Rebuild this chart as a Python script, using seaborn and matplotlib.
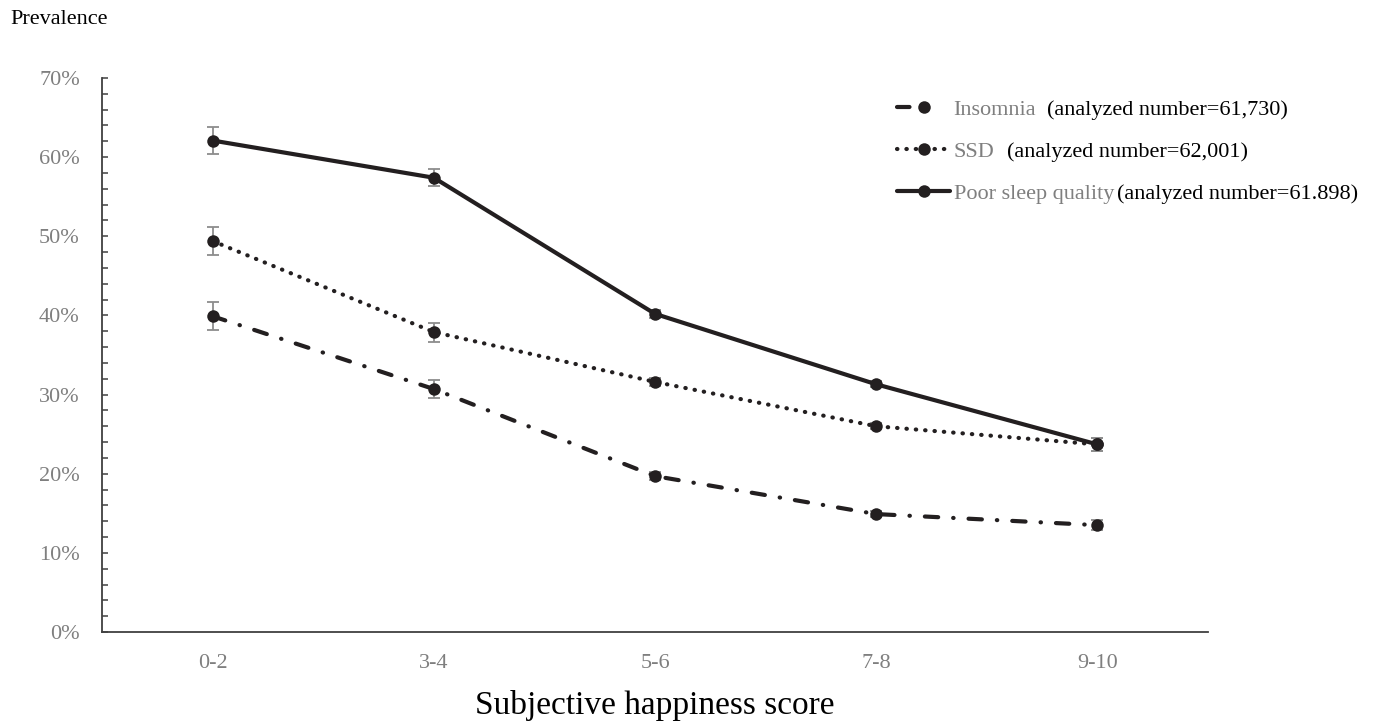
import matplotlib
matplotlib.use("Agg")
import matplotlib.pyplot as plt
import seaborn as sns
import numpy as np
import pandas as pd
from matplotlib.lines import Line2D
from matplotlib.ticker import MultipleLocator, PercentFormatter

# ---- data ----
categories = ["0-2", "3-4", "5-6", "7-8", "9-10"]
insomnia = [39.9, 30.7, 19.7, 14.9, 13.5]
insomnia_err = [1.8, 1.1, 0.5, 0.4, 0.6]
ssd = [49.4, 37.9, 31.6, 26.0, 23.7]
ssd_err = [1.8, 1.2, 0.5, 0.4, 0.8]
poor = [62.1, 57.4, 40.2, 31.3, 23.7]
poor_err = [1.7, 1.1, 0.5, 0.4, 0.8]
series_names = ["Insomnia", "SSD", "Poor sleep quality"]
series_counts = ["(analyzed number=61,730)", "(analyzed number=62,001)",
                 "(analyzed number=61.898)"]

sns.set_theme(style="white")
plt.rcParams["font.family"] = ["Liberation Serif", "DejaVu Serif"]

W, H, DPI = 1387, 722, 100
fig = plt.figure(figsize=(W / DPI, H / DPI), dpi=DPI)
ax = fig.add_axes([102 / W, 1 - 632 / H, (1208 - 102) / W, (632 - 78) / H])

line_color = "#231f20"
err_color = "#8c8c8c"
x = np.arange(len(categories))

styles = [
    dict(linestyle=(0, (3.2, 3.6, 0.1, 3.6)), lw=3.0, dash_capstyle="round"),
    dict(linestyle=(0, (0.1, 2.15)), lw=3.0, dash_capstyle="round"),
    dict(linestyle="-", lw=3.0),
]
values = [insomnia, ssd, poor]
errs = [insomnia_err, ssd_err, poor_err]

handles = []
for name, vals, err, st in zip(series_names, values, errs, styles):
    df = pd.DataFrame({"x": x, "y": vals})
    ax.errorbar(x, vals, yerr=err, fmt="none", ecolor=err_color, elinewidth=1.3,
                capsize=4, capthick=1.3, zorder=2)
    sns.lineplot(data=df, x="x", y="y", ax=ax, color=line_color, marker="o",
                 markersize=9, markeredgewidth=0, zorder=3, label=name, **st)
    handles.append(ax.lines[-1])

# legend proxy for the dash-dot series: a single dash followed by the marker
handles[0] = Line2D([], [], color=line_color, lw=3.0, linestyle=(0, (3.0, 30)),
                    dash_capstyle="round", marker="o", markersize=9,
                    markeredgewidth=0)

ax.set_xlim(-0.5, len(categories) - 0.5)
ax.set_ylim(0, 70)
ax.set_xticks(x)
ax.set_xticklabels(categories)
ax.yaxis.set_major_locator(MultipleLocator(10))
ax.yaxis.set_minor_locator(MultipleLocator(2))
ax.yaxis.set_major_formatter(PercentFormatter(decimals=0))

for s in ["top", "right"]:
    ax.spines[s].set_visible(False)
for s in ["left", "bottom"]:
    ax.spines[s].set_color("#404040")
    ax.spines[s].set_linewidth(1.3)

ax.tick_params(axis="y", which="both", direction="in", length=4, width=1.1,
               color="#404040", left=True, labelsize=16, labelcolor="#7f7f7f", pad=16)
ax.tick_params(axis="x", length=0, labelsize=16, labelcolor="#7f7f7f", pad=16)
ax.set_xlabel("Subjective happiness score", fontsize=24, color="black", labelpad=12)
ax.set_ylabel("")

fig.text(10 / W, 1 - 20 / H, "Prevalence", fontsize=16, color="black",
         ha="left", va="center")

leg = ax.legend(handles=handles, labels=series_names, loc="upper left",
                bbox_to_anchor=(897 / W, 1 - 99 / H), bbox_transform=fig.transFigure,
                frameon=False, fontsize=16, handlelength=2.4, handletextpad=0.15,
                labelspacing=0.98, borderpad=0, borderaxespad=0, numpoints=1)
for t in leg.get_texts():
    t.set_color("#7f7f7f")

fig.canvas.draw()
gaps = [8, 9, 2]
for t, cnt, g in zip(leg.get_texts(), series_counts, gaps):
    ax.annotate(cnt, xy=(1, 0), xycoords=t, xytext=(g, 0), textcoords="offset points",
                ha="left", va="bottom", fontsize=16, color="black")

fig.savefig("out.png", dpi=DPI)
